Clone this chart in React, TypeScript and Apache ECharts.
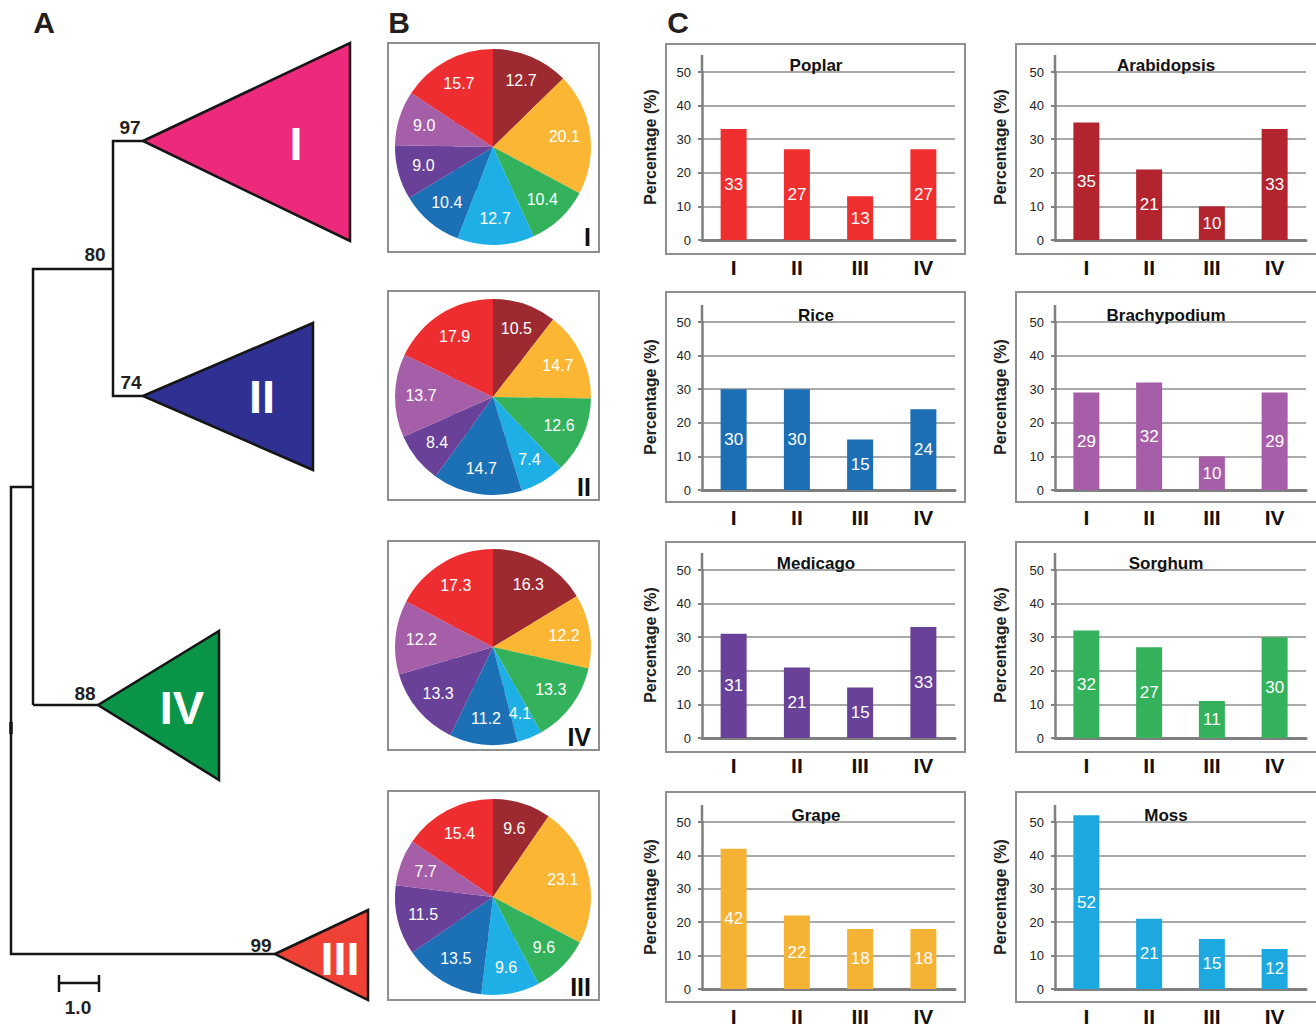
import React, { useEffect, useRef } from "react";
import * as echarts from "echarts";

// ---------- Data ----------
const groups = ["I", "II", "III", "IV"];
const species = ["Poplar", "Arabidopsis", "Rice", "Brachypodium", "Medicago", "Sorghum", "Grape", "Moss"];
const poplar = [33, 27, 13, 27];
const arabidopsis = [35, 21, 10, 33];
const rice = [30, 30, 15, 24];
const brachypodium = [29, 32, 10, 29];
const medicago = [31, 21, 15, 33];
const sorghum = [32, 27, 11, 30];
const grape = [42, 22, 18, 18];
const moss = [52, 21, 15, 12];
const barValues = [poplar, arabidopsis, rice, brachypodium, medicago, sorghum, grape, moss];
const barColors = ["#EE2E2F", "#B3242F", "#1C6FB5", "#A65EA8", "#6A4199", "#33B25B", "#F5B336", "#1DA9DF"];
const yAxisTitle = "Percentage (%)";

// pie slices clockwise from 12 o'clock
const pieSpecies = ["Arabidopsis", "Grape", "Sorghum", "Moss", "Rice", "Medicago", "Brachypodium", "Poplar"];
const pieColors = ["#9C2A30", "#FBB633", "#33B25B", "#1EAFE6", "#1B70B6", "#6A4199", "#A55FA8", "#EE2D30"];
const pieI = [12.7, 20.1, 10.4, 12.7, 10.4, 9.0, 9.0, 15.7];
const pieII = [10.5, 14.7, 12.6, 7.4, 14.7, 8.4, 13.7, 17.9];
const pieIV = [16.3, 12.2, 13.3, 4.1, 11.2, 13.3, 12.2, 17.3];
const pieIII = [9.6, 23.1, 9.6, 9.6, 13.5, 11.5, 7.7, 15.4];
const pieSets = [pieI, pieII, pieIV, pieIII];
const pieNames = ["I", "II", "IV", "III"];

// tree support values
const supportLabels = ["97", "74", "80", "88", "99"];

// ---------- Layout ----------
const FONT = "Liberation Sans, Arial, sans-serif";
const rowTops = [72, 322, 570, 822];
const boxTops = [44, 292, 542, 792];
const boxH = 210;
const gridH = 168;
const colLeft = [702, 1055];
const colWidth = [253, 251];
const nameOffset = [52, 55];
const boxLeft = [666, 1016];
const boxWidth = [299, 310];
const pieCx = 493;
const pieCy = [147, 397, 647, 897];
const pieR = 98;

function buildOption(): any {
  const grids: any[] = [];
  const xAxes: any[] = [];
  const yAxes: any[] = [];
  const series: any[] = [];
  const graphics: any[] = [];

  species.forEach((name, i) => {
    const col = i % 2;
    const row = Math.floor(i / 2);
    grids.push({ left: colLeft[col], top: rowTops[row], width: colWidth[col], height: gridH, containLabel: false });
    xAxes.push({
      type: "category",
      gridIndex: i,
      data: groups,
      axisLine: { show: true, lineStyle: { color: "#7f7f7f", width: 3 } },
      axisTick: { show: false },
      axisLabel: { fontFamily: FONT, fontSize: 21, fontWeight: 900, color: "#111", margin: 17 },
    });
    yAxes.push({
      type: "value",
      gridIndex: i,
      min: 0,
      max: 50,
      interval: 10,
      axisLine: { show: true, lineStyle: { color: "#7f7f7f", width: 2.5 } },
      axisTick: { show: true, length: 4, lineStyle: { color: "#7f7f7f", width: 2 } },
      axisLabel: { fontFamily: FONT, fontSize: 13, color: "#222", margin: 11 },
      splitLine: { show: true, lineStyle: { color: "#8c8c8c", width: 1.5 } },
    });
    series.push({
      type: "bar",
      name,
      xAxisIndex: i,
      yAxisIndex: i,
      data: barValues[i],
      barWidth: 26,
      clip: false,
      itemStyle: { color: barColors[i] },
      label: { show: true, position: "inside", color: "#fff", fontSize: 17, fontFamily: FONT },
      silent: true,
    });
    // box
    graphics.push({
      type: "rect",
      shape: { x: boxLeft[col], y: boxTops[row], width: boxWidth[col], height: boxH },
      style: { fill: "none", stroke: "#8f8f8f", lineWidth: 2 },
      z: -1,
    });
    // axis extension above top gridline
    graphics.push({
      type: "line",
      shape: { x1: colLeft[col], y1: rowTops[row] - 17, x2: colLeft[col], y2: rowTops[row] },
      style: { stroke: "#7f7f7f", lineWidth: 2.5 },
    });
    // y-axis title
    graphics.push({
      type: "text",
      x: colLeft[col] - nameOffset[col],
      y: rowTops[row] + 75,
      rotation: Math.PI / 2,
      style: {
        text: yAxisTitle,
        x: 0,
        y: 0,
        textAlign: "center",
        textVerticalAlign: "middle",
        font: `bold 16px ${FONT}`,
        fill: "#222",
      },
    });
    // title
    graphics.push({
      type: "text",
      style: {
        text: name,
        x: boxLeft[col] + 150,
        y: rowTops[row] - 7,
        textAlign: "center",
        textVerticalAlign: "middle",
        font: `bold 17px ${FONT}`,
        fill: "#111",
      },
      z: 10,
    });
  });

  // pies
  pieSets.forEach((vals, k) => {
    const data = vals.map((v, j) => ({ name: pieSpecies[j], value: v, itemStyle: { color: pieColors[j] } }));
    series.push({
      type: "pie",
      center: [pieCx, pieCy[k]],
      radius: [0, 46],
      startAngle: 90,
      clockwise: true,
      silent: true,
      label: { show: false },
      labelLine: { show: false },
      data,
    });
    series.push({
      type: "pie",
      center: [pieCx, pieCy[k]],
      radius: [40, pieR],
      startAngle: 90,
      clockwise: true,
      silent: true,
      label: {
        show: true,
        position: "inside",
        color: "#fff",
        fontSize: 16,
        fontFamily: FONT,
        formatter: (p: any) => Number(p.value).toFixed(1),
      },
      labelLine: { show: false },
      data,
    });
    graphics.push({
      type: "rect",
      shape: { x: 388, y: boxTops[k] - 1, width: 211, height: 209 },
      style: { fill: "none", stroke: "#8f8f8f", lineWidth: 2 },
      z: -1,
    });
    graphics.push({
      type: "text",
      style: {
        text: pieNames[k],
        x: 591,
        y: pieCy[k] + 90,
        textAlign: "right",
        textVerticalAlign: "middle",
        font: `900 25px ${FONT}`,
        fill: "#111",
      },
      z: 10,
    });
  });

  // panel letters
  const letters: [string, number][] = [["A", 44], ["B", 399], ["C", 678]];
  letters.forEach(([t, x]) =>
    graphics.push({
      type: "text",
      style: { text: t, x, y: 22, textAlign: "center", textVerticalAlign: "middle", font: `bold 30px ${FONT}`, fill: "#231F20" },
    })
  );

  // tree
  const lineStyle = { stroke: "#151515", lineWidth: 2.5, fill: "none" };
  const branches: number[][][] = [
    [[143, 141], [113, 141], [113, 396], [143, 396]],
    [[33, 705], [33, 269], [113, 269]],
    [[33, 705], [98, 705]],
    [[33, 487], [11, 487], [11, 954], [275, 954]],
  ];
  branches.forEach((pts) => graphics.push({ type: "polyline", shape: { points: pts }, style: lineStyle }));
  graphics.push({ type: "line", shape: { x1: 11, y1: 722, x2: 11, y2: 734 }, style: { stroke: "#151515", lineWidth: 3.5 } });

  const tris: { pts: number[][]; fill: string; label: string; lx: number; ly: number }[] = [
    { pts: [[143, 141], [350, 43], [350, 241]], fill: "#EC297B", label: "I", lx: 296, ly: 143 },
    { pts: [[143, 396], [313, 323], [313, 470]], fill: "#2E3192", label: "II", lx: 262, ly: 396 },
    { pts: [[98, 705], [219, 631], [219, 780]], fill: "#0A9447", label: "IV", lx: 182, ly: 707 },
    { pts: [[275, 954], [368, 910], [368, 1000]], fill: "#EF4136", label: "III", lx: 340, ly: 958 },
  ];
  tris.forEach((t) => {
    graphics.push({ type: "polygon", shape: { points: t.pts }, style: { fill: t.fill, stroke: "#151515", lineWidth: 2.5 } });
    graphics.push({
      type: "text",
      style: { text: t.label, x: t.lx, y: t.ly, textAlign: "center", textVerticalAlign: "middle", font: `bold 47px ${FONT}`, fill: "#fff" },
      z: 10,
    });
  });

  const supportPos = [[130, 127], [131, 382], [95, 254], [85, 693], [261, 945]];
  supportLabels.forEach((s, i) =>
    graphics.push({
      type: "text",
      style: { text: s, x: supportPos[i][0], y: supportPos[i][1], textAlign: "center", textVerticalAlign: "middle", font: `bold 19px ${FONT}`, fill: "#231F20" },
    })
  );

  // scale bar
  graphics.push({ type: "line", shape: { x1: 59, y1: 983, x2: 99, y2: 983 }, style: { stroke: "#151515", lineWidth: 2.5 } });
  graphics.push({ type: "line", shape: { x1: 59, y1: 975, x2: 59, y2: 992 }, style: { stroke: "#151515", lineWidth: 2.5 } });
  graphics.push({ type: "line", shape: { x1: 99, y1: 975, x2: 99, y2: 992 }, style: { stroke: "#151515", lineWidth: 2.5 } });
  graphics.push({
    type: "text",
    style: { text: "1.0", x: 78, y: 1007, textAlign: "center", textVerticalAlign: "middle", font: `bold 19px ${FONT}`, fill: "#231F20" },
  });

  return {
    animation: false,
    backgroundColor: "#fff",
    grid: grids,
    xAxis: xAxes,
    yAxis: yAxes,
    series,
    graphic: { elements: graphics },
  };
}

export default function App() {
  const ref = useRef<HTMLDivElement>(null);
  useEffect(() => {
    if (!ref.current) return;
    const chart = echarts.init(ref.current, undefined, { renderer: "svg" });
    chart.setOption(buildOption());
    return () => chart.dispose();
  }, []);
  return <div ref={ref} style={{ position: "absolute", left: 0, top: 0, width: 1316, height: 1027 }} />;
}
